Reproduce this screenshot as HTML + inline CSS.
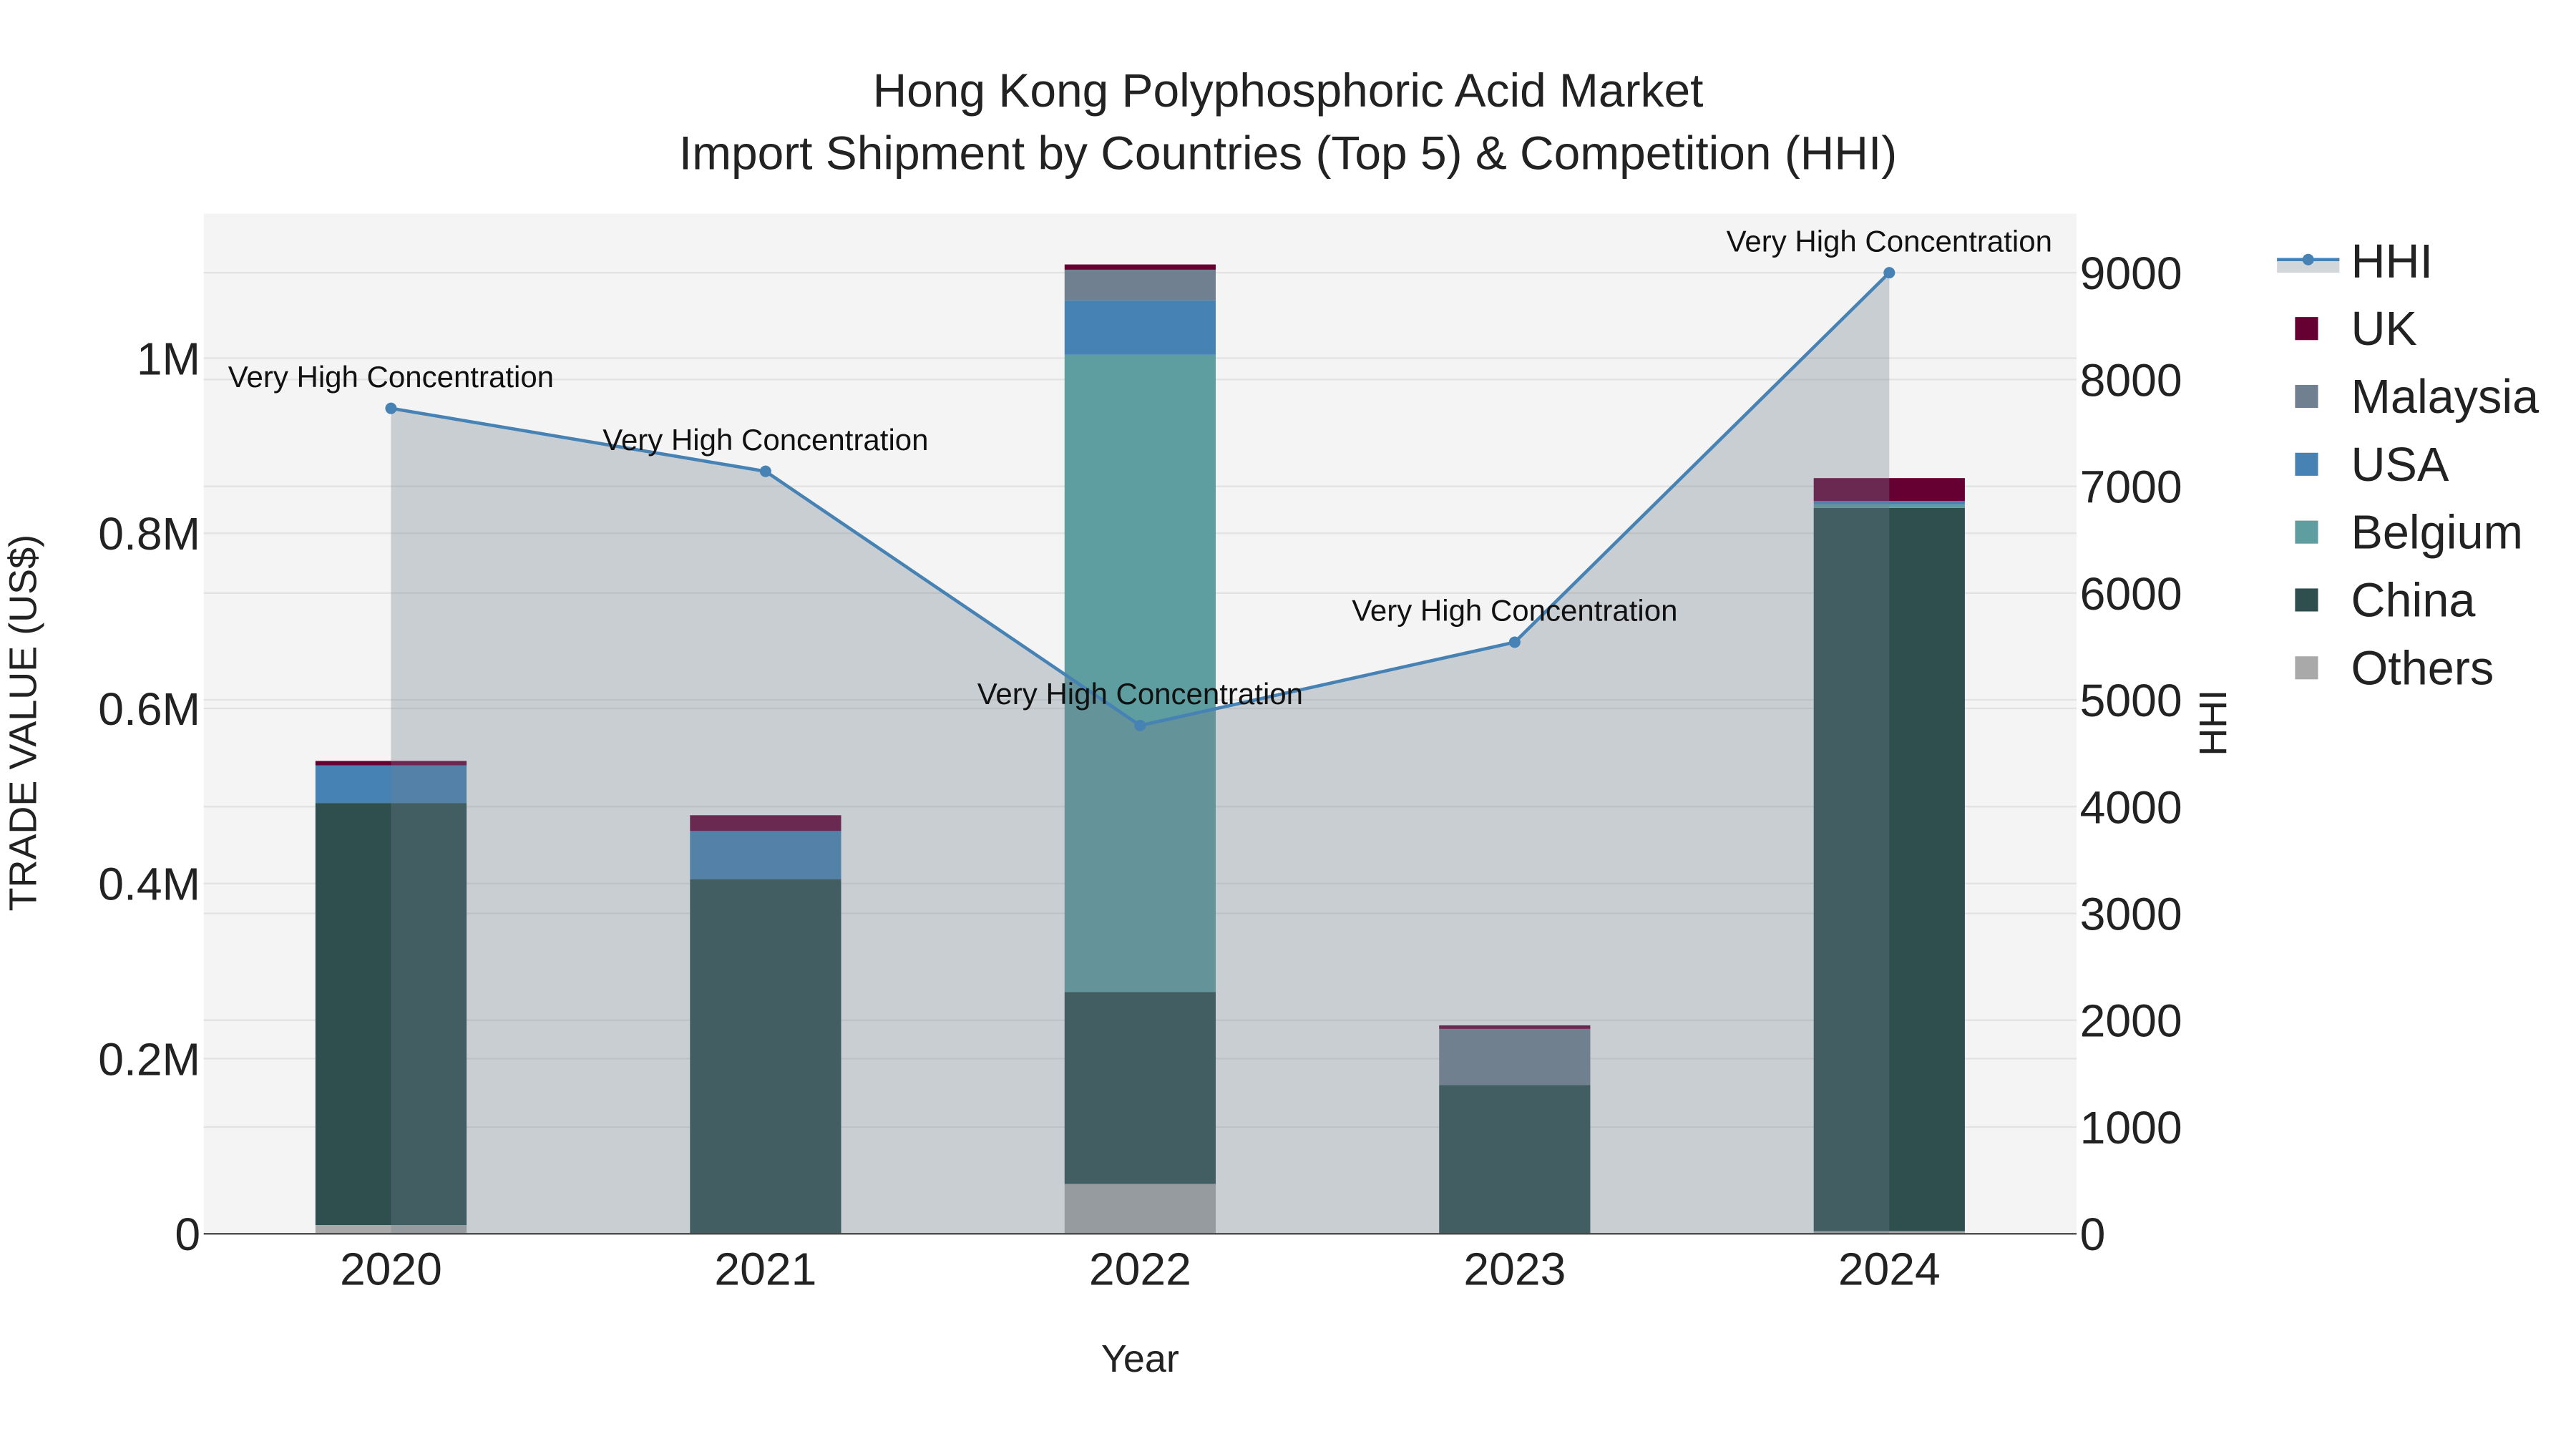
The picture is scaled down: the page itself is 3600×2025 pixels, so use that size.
<!DOCTYPE html>
<html><head><meta charset="utf-8"><style>
html,body{margin:0;padding:0;background:#fff}
svg{display:block;font-family:"Liberation Sans",sans-serif}
</style></head><body>
<svg id="chart" width="3600" height="2025" viewBox="0 0 1568 882" xmlns="http://www.w3.org/2000/svg">
<rect x="0" y="0" width="1568" height="882" fill="#fff"/>
<rect x="124" y="130" width="1140" height="621" fill="#f4f4f4"/>
<g id="grid"></g>
<g id="bars"></g>
<g id="area"></g>
<g id="line"></g>
<g id="axes"></g>
<text x="784" y="65" text-anchor="middle" font-size="28.7" fill="#222">Hong Kong Polyphosphoric Acid Market</text>
<text x="784" y="103" text-anchor="middle" font-size="28.7" fill="#222">Import Shipment by Countries (Top 5) &amp; Competition (HHI)</text>
<text x="694" y="835" text-anchor="middle" font-size="23.5" fill="#222">Year</text>
<text transform="translate(22,440) rotate(-90)" text-anchor="middle" font-size="23.5" fill="#222">TRADE VALUE (US$)</text>
<text transform="translate(1355,440) rotate(-90)" text-anchor="middle" font-size="23.5" fill="#222">HHI</text>
<g id="legend"></g>
</svg>
<script>
const years = ["2020","2021","2022","2023","2024"];
const seriesNames = ["Others","China","Belgium","USA","Malaysia","UK"];
const others = [0.010, 0.000, 0.057, 0.000, 0.003];
const china = [0.482, 0.405, 0.219, 0.170, 0.826];
const belgium = [0.000, 0.000, 0.728, 0.000, 0.004];
const usa = [0.043, 0.055, 0.062, 0.000, 0.004];
const malaysia = [0.000, 0.000, 0.035, 0.064, 0.000];
const uk = [0.005, 0.018, 0.006, 0.004, 0.026];
const hhi = [7730, 7140, 4760, 5540, 9000];
const leftTicks = [0, 0.2, 0.4, 0.6, 0.8, 1.0];
const leftTickLabels = ["0","0.2M","0.4M","0.6M","0.8M","1M"];
const rightTicks = [0,1000,2000,3000,4000,5000,6000,7000,8000,9000];
const annotationText = "Very High Concentration";

const colors = {Others:"#a9a9a9",China:"#2f4f4f",Belgium:"#5f9ea0",USA:"#4682b4",Malaysia:"#708090",UK:"#660033"};
const NS = "http://www.w3.org/2000/svg";
function mk(tag, attrs, parent){const e=document.createElementNS(NS,tag);for(const k in attrs)e.setAttribute(k,attrs[k]);parent.appendChild(e);return e;}
const x0=124,x1=1264,yBase=751;
function xScale(i){return 238+i*228;}
function yL(v){return yBase - v*533;}
function yR(v){return yBase - v*0.065;}
const grid=document.getElementById('grid');
leftTicks.forEach(t=>{const l=mk('line',{x1:x0,x2:x1,y1:yL(t),y2:yL(t),stroke:'#e2e2e2','stroke-width':1},grid);
});
rightTicks.forEach(t=>{const l=mk('line',{x1:x0,x2:x1,y1:yR(t),y2:yR(t),stroke:'#e2e2e2','stroke-width':1},grid);
});
const bars=document.getElementById('bars');
const data=[others,china,belgium,usa,malaysia,uk];
years.forEach((y,i)=>{let acc=0;data.forEach((arr,s)=>{const v=arr[i];if(v<=0)return;
const r=mk('rect',{x:xScale(i)-46,width:92,y:yL(acc+v),height:yL(acc)-yL(acc+v),fill:colors[seriesNames[s]]},bars);

acc+=v;});});
const area=document.getElementById('area');
let d='M'+xScale(0)+','+yBase;hhi.forEach((v,i)=>{d+=' L'+xScale(i)+','+yR(v);});d+=' L'+xScale(hhi.length-1)+','+yBase+' Z';
const ap=mk('path',{d:d,fill:'rgba(112,128,144,0.32)'},area);

const lg=document.getElementById('line');
const pl=mk('polyline',{points:hhi.map((v,i)=>xScale(i)+','+yR(v)).join(' '),fill:'none',stroke:'#4682b4','stroke-width':2},lg);

hhi.forEach((v,i)=>{const c=mk('circle',{cx:xScale(i),cy:yR(v),r:3.5,fill:'#4682b4'},lg);

const t=mk('text',{x:xScale(i),y:yR(v)-13,'text-anchor':'middle','font-size':18.3,fill:'#111'},lg);t.textContent=annotationText;
});
const ax=document.getElementById('axes');
const bl=mk('line',{x1:x0,x2:x1,y1:yBase,y2:yBase,stroke:'#444','stroke-width':1},ax);

leftTicks.forEach((t,i)=>{const e=mk('text',{x:x0-2,y:yL(t)+10,'text-anchor':'end','font-size':28,fill:'#222'},ax);e.textContent=leftTickLabels[i];
});
rightTicks.forEach(t=>{const e=mk('text',{x:x1+2,y:yR(t)+10,'text-anchor':'start','font-size':28,fill:'#222'},ax);e.textContent=String(t);
});
years.forEach((y,i)=>{const e=mk('text',{x:xScale(i),y:782,'text-anchor':'middle','font-size':28,fill:'#222'},ax);e.textContent=y;
});
const leg=document.getElementById('legend');
const hl=mk('g',{},leg);
mk('rect',{x:1386,y:158,width:38,height:8,fill:'rgba(112,128,144,0.32)'},hl);
mk('line',{x1:1386,x2:1424,y1:158,y2:158,stroke:'#4682b4','stroke-width':2},hl);
mk('circle',{cx:1405,cy:158,r:3.5,fill:'#4682b4'},hl);
const ht=mk('text',{x:1431,y:169,'font-size':29,fill:'#222'},hl);ht.textContent='HHI';
["UK","Malaysia","USA","Belgium","China","Others"].forEach((n,k)=>{const cy=200+k*41.3;
const g=mk('g',{},leg);
mk('rect',{x:1397,y:cy-7,width:14,height:14,fill:colors[n]},g);
const t=mk('text',{x:1431,y:cy+10,'font-size':29,fill:'#222'},g);t.textContent=n;});
</script>
</body></html>
